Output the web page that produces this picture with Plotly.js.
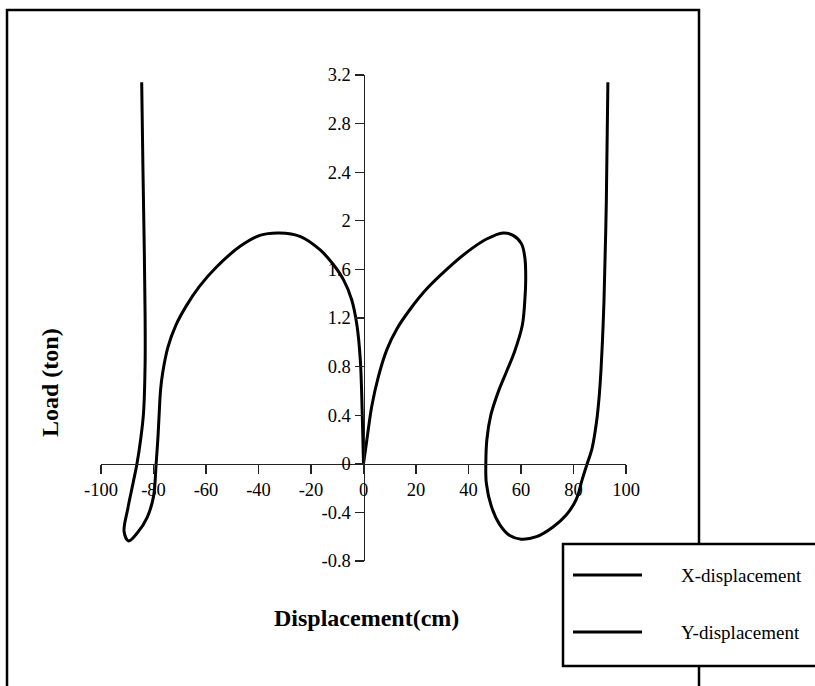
<!DOCTYPE html>
<html>
<head>
<meta charset="utf-8">
<script src="https://cdn.plot.ly/plotly-3.0.1.min.js"></script>
<style>html,body{margin:0;padding:0;background:#fff;}#chart{width:815px;height:686px;}</style>
</head>
<body>
<div id="chart"></div>
<script>
// Series names
const seriesNames = ["X-displacement", "Y-displacement"];

// X-displacement curve (displacement cm, load ton) in drawing order
const xDispX = [0, -0.5, -1.2, -2.5, -4.5, -7.5, -11.5, -16.5, -24, -32, -39.5, -47, -56, -62.5, -67.5, -71.5, -74.5, -76.5, -77.3, -77.8, -78.3, -79, -80, -82.4, -86.2, -89.5, -91.2, -89.8, -87.7, -86.3, -84.9, -83.8, -83.2, -83.2, -83.5, -84.0, -84.5];
const xDispY = [0, 0.43, 0.85, 1.14, 1.35, 1.51, 1.64, 1.76, 1.87, 1.90, 1.88, 1.79, 1.62, 1.46, 1.30, 1.14, 0.96, 0.75, 0.61, 0.43, 0.22, 0, -0.27, -0.44, -0.57, -0.635, -0.56, -0.37, -0.15, 0, 0.2, 0.42, 0.82, 1.22, 1.75, 2.4, 3.14];

// Y-displacement curve
const yDispX = [0, 1.3, 3.2, 5.7, 8.9, 12.7, 17.7, 24.1, 31.7, 39.3, 46.9, 53.2, 57, 60.2, 61.5, 61.8, 61.5, 60.5, 57.5, 54.5, 51.3, 48.5, 47, 46.6, 46.8, 48.7, 51.9, 55.7, 60.1, 65.9, 72.2, 77.3, 81.1, 83.3, 85.2, 87.0, 88.8, 89.8, 90.5, 91.1, 91.6, 92.5, 93.1];
const yDispY = [0, 0.2, 0.48, 0.72, 0.94, 1.11, 1.27, 1.44, 1.60, 1.74, 1.85, 1.90, 1.88, 1.81, 1.69, 1.52, 1.36, 1.14, 0.92, 0.76, 0.59, 0.40, 0.2, 0, -0.16, -0.35, -0.50, -0.59, -0.62, -0.60, -0.52, -0.42, -0.29, -0.13, 0, 0.12, 0.35, 0.56, 0.78, 1.05, 1.33, 2.15, 3.14];

// Tick values and labels
const xTickVals = [-100, -80, -60, -40, -20, 0, 20, 40, 60, 80, 100];
const xTickText = ["-100", "-80", "-60", "-40", "-20", "0", "20", "40", "60", "80", "100"];
const yTickVals = [-0.8, -0.4, 0, 0.4, 0.8, 1.2, 1.6, 2, 2.4, 2.8, 3.2];
const yTickText = ["-0.8", "-0.4", "0", "0.4", "0.8", "1.2", "1.6", "2", "2.4", "2.8", "3.2"];

const xTitle = "Displacement(cm)";
const yTitle = "Load (ton)";

const serif = "Liberation Serif, Times New Roman, serif";

const traces = [
  {x: xDispX, y: xDispY, name: seriesNames[0], type: "scatter", mode: "lines",
   line: {color: "#000", width: 3, shape: "spline", smoothing: 1}},
  {x: yDispX, y: yDispY, name: seriesNames[1], type: "scatter", mode: "lines",
   line: {color: "#000", width: 3, shape: "spline", smoothing: 1}}
];

// paper-coordinate helpers (plot area: x 101..626 px, y 75..561 px)
const px = v => (v - 101) / 525;
const py = v => (561 - v) / 486;

const legendRows = [575, 632];
const shapes = [
  {type: "rect", xref: "paper", yref: "paper", x0: px(7), x1: px(699), y0: py(705), y1: py(10),
   line: {color: "#000", width: 2.5}, fillcolor: "rgba(0,0,0,0)", layer: "above"},
  {type: "rect", xref: "paper", yref: "paper", x0: px(563), x1: px(830), y0: py(666), y1: py(544),
   line: {color: "#000", width: 2.5}, fillcolor: "#fff", layer: "above"}
];
const annotations = [
  {text: "<b>" + xTitle + "</b>", xref: "paper", yref: "paper", x: px(366), y: py(618),
   showarrow: false, xanchor: "center", yanchor: "middle", font: {family: serif, size: 24, color: "#000"}},
  {text: "<b>" + yTitle + "</b>", xref: "paper", yref: "paper", x: px(50), y: py(383),
   showarrow: false, xanchor: "center", yanchor: "middle", textangle: -90, font: {family: serif, size: 24, color: "#000"}}
];
seriesNames.forEach((nm, i) => {
  shapes.push({type: "line", xref: "paper", yref: "paper", x0: px(573), x1: px(642), y0: py(legendRows[i]), y1: py(legendRows[i]),
               line: {color: "#000", width: 3}, layer: "above"});
  annotations.push({text: nm, xref: "paper", yref: "paper", x: px(679), y: py(legendRows[i]), showarrow: false,
                    xanchor: "left", yanchor: "middle", font: {family: serif, size: 19, color: "#000"}});
});

const layout = {
  width: 815, height: 686,
  margin: {l: 101, r: 189, t: 75, b: 125},
  paper_bgcolor: "#fff", plot_bgcolor: "rgba(0,0,0,0)",
  font: {family: serif, size: 18, color: "#000"},
  showlegend: false,
  xaxis: {range: [-100, 100], anchor: "free", position: 0.2, showline: true, linecolor: "#222", linewidth: 1.2,
          ticks: "outside", ticklen: 9, tickwidth: 1.2, tickcolor: "#222",
          tickvals: xTickVals, ticktext: xTickText, showgrid: false, zeroline: false,
          tickfont: {family: serif, size: 18.5, color: "#000"}},
  yaxis: {range: [-0.8, 3.2], anchor: "free", position: 0.5, showline: true, linecolor: "#222", linewidth: 1.2,
          ticks: "outside", ticklen: 9, tickwidth: 1.2, tickcolor: "#222",
          tickvals: yTickVals, ticktext: yTickText, showgrid: false, zeroline: false,
          tickfont: {family: serif, size: 18.5, color: "#000"}},
  shapes: shapes,
  annotations: annotations
};

Plotly.newPlot("chart", traces, layout, {displayModeBar: false, staticPlot: true});
</script>
</body>
</html>
